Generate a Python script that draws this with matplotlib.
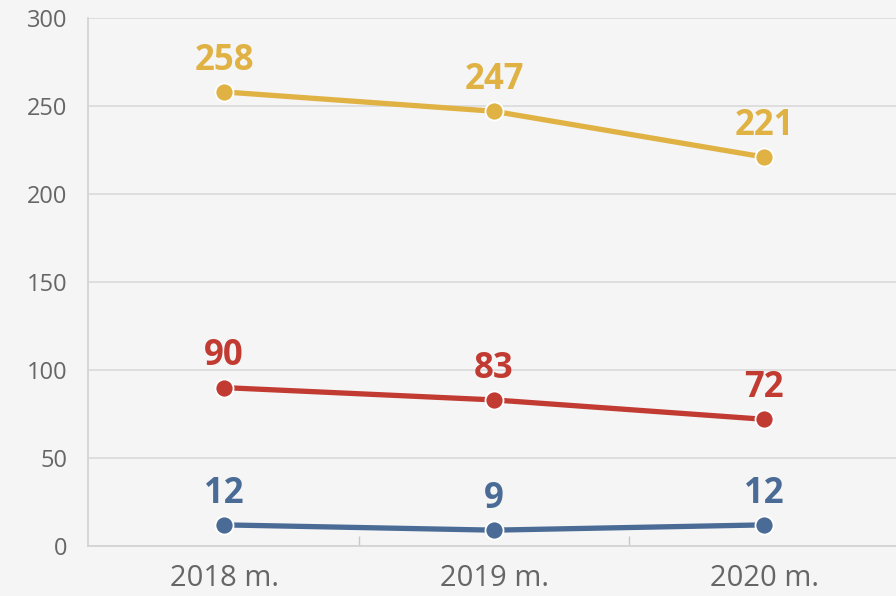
import matplotlib
matplotlib.use("Agg")
import matplotlib.pyplot as plt
from matplotlib.ticker import FixedLocator

plt.rcParams['font.family'] = ['Open Sans', 'DejaVu Sans']

years = ["2018 m.", "2019 m.", "2020 m."]
gold_vals = [258, 247, 221]
red_vals = [90, 83, 72]
blue_vals = [12, 9, 12]
y_ticks = [0, 50, 100, 150, 200, 250, 300]

series = [
    (gold_vals, "#e0b244"),
    (red_vals, "#c23b32"),
    (blue_vals, "#4a6b95"),
]

bg = "#f5f5f5"
fig = plt.figure(figsize=(8.96, 5.96), dpi=100, facecolor=bg)
ax = fig.add_axes([88/896, 50/596, 808/896, 528/596])
ax.set_facecolor(bg)

x = list(range(len(years)))
for vals, col in series:
    ax.plot(x, vals, color=col, lw=3.8, marker='o', ms=13,
            markerfacecolor=col, markeredgecolor='white', markeredgewidth=1.3,
            solid_capstyle='round', zorder=3, clip_on=False)
    for xi, v in zip(x, vals):
        ax.annotate(str(v), (xi, v), xytext=(0, 9.5), textcoords='offset points',
                    ha='center', va='bottom', fontsize=25, fontweight='bold',
                    color=col, zorder=4)

ax.set_xlim(-136/270, 672/270)
ax.set_ylim(0, 300)
ax.set_yticks(y_ticks)
ax.set_yticklabels([str(t) for t in y_ticks])
ax.set_xticks(x)
ax.set_xticklabels(years)
ax.xaxis.set_minor_locator(FixedLocator([0.5, 1.5, 2.5]))

ax.grid(axis='y', color='#dcdcdc', lw=1.3, zorder=0)
ax.set_axisbelow(True)
for s in ['top', 'right']:
    ax.spines[s].set_visible(False)
for s in ['left', 'bottom']:
    ax.spines[s].set_color('#d4d4d4')
    ax.spines[s].set_linewidth(1.3)

ax.tick_params(axis='y', length=0, pad=15, labelsize=17, labelcolor='#666666')
ax.tick_params(axis='x', which='major', length=0, pad=13, labelsize=21, labelcolor='#666666')
ax.tick_params(axis='x', which='minor', direction='in', length=7, width=1, color='#c8c8c8')

fig.savefig("out.png", dpi=100, facecolor=bg)
